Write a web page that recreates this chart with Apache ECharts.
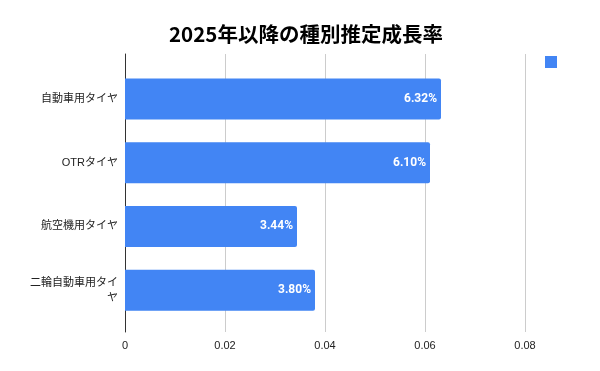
<!DOCTYPE html>
<html>
<head>
<meta charset="utf-8">
<script src="https://cdn.jsdelivr.net/npm/echarts@6/dist/echarts.min.js"></script>
<style>html,body{margin:0;padding:0;background:#fff}#c{width:600px;height:371px}</style>
</head>
<body>
<div id="c"></div>
<script>
const titleText = '2025年以降の種別推定成長率';
const categories = ['自動車用タイヤ', 'OTRタイヤ', '航空機用タイヤ', '二輪自動車用タイヤ'];
const growthRates = [0.0632, 0.0610, 0.0344, 0.0380];
const xTicks = [0, 0.02, 0.04, 0.06, 0.08];

const chart = echarts.init(document.getElementById('c'), null, {renderer: 'canvas'});
const xMin = xTicks[0], xMax = xTicks[xTicks.length - 1], xStep = xTicks[1] - xTicks[0];
const baseFont = "'Liberation Sans', Arial, 'Noto Sans CJK JP', sans-serif";

chart.setOption({
  animation: false,
  backgroundColor: '#ffffff',
  title: {
    text: titleText,
    left: 164,
    top: 19,
    textStyle: {fontFamily: "'Noto Sans CJK JP', sans-serif", fontWeight: 'bold', fontSize: 20.5, color: '#000'}
  },
  legend: {
    left: 545, top: 56, padding: 0,
    itemWidth: 12, itemHeight: 12, icon: 'rect',
    data: [' '],
    textStyle: {fontSize: 11}
  },
  grid: [
    {left: 125, right: 75, top: 54, bottom: 39},
    {left: 125, right: 75, top: 67, bottom: 49}
  ],
  xAxis: [
    {
      gridIndex: 0, type: 'value', min: xMin, max: xMax, interval: xStep,
      axisLine: {show: false}, axisTick: {show: false},
      axisLabel: {show: true, margin: 8, color: '#222', fontSize: 11, fontFamily: baseFont,
        formatter: v => String(+v.toFixed(2))},
      splitLine: {show: true, lineStyle: {color: '#cccccc', width: 1}}
    },
    {
      gridIndex: 1, type: 'value', min: xMin, max: xMax, interval: xStep,
      show: false
    }
  ],
  yAxis: [
    {
      gridIndex: 0, type: 'value', min: 0, max: 1,
      axisLine: {show: true, onZero: false, lineStyle: {color: '#333', width: 1}},
      axisTick: {show: false}, axisLabel: {show: false}, splitLine: {show: false}
    },
    {
      gridIndex: 1, type: 'category', data: categories, inverse: true,
      axisLine: {show: false}, axisTick: {show: false}, splitLine: {show: false},
      axisLabel: {color: '#222', fontSize: 11, fontFamily: baseFont, margin: 7,
        width: 90, overflow: 'break', lineHeight: 15, align: 'right'}
    }
  ],
  series: [
    {
      name: ' ',
      type: 'bar',
      xAxisIndex: 1, yAxisIndex: 1,
      data: growthRates,
      barWidth: 41,
      itemStyle: {color: '#4285f4', borderRadius: [0, 2, 2, 0]},
      label: {
        show: true, position: 'insideRight', distance: 4,
        color: '#fff', fontWeight: 'bold', fontSize: 12,
        fontFamily: "Roboto, 'Liberation Sans', sans-serif",
        formatter: p => (p.value * 100).toFixed(2) + '%'
      }
    }
  ]
});
</script>
</body>
</html>
